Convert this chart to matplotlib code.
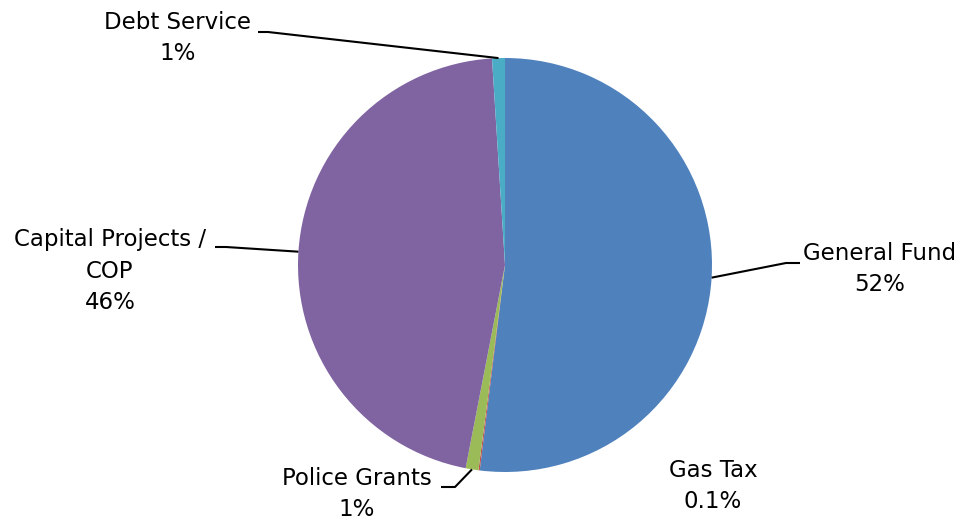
import numpy as np
import matplotlib.pyplot as plt

# fund shares (%)
funds = ['General Fund', 'Gas Tax', 'Police Grants', 'Capital Projects /\nCOP', 'Debt Service']
shares = [52, 0.1, 1, 46, 1]
share_text = ['52%', '0.1%', '1%', '46%', '1%']
colors = ['#4F81BD', '#C0504D', '#9BBB59', '#8064A2', '#4BACC6']

W, H = 962, 522
fig = plt.figure(figsize=(W / 100, H / 100), dpi=100)
ax = fig.add_axes([0, 0, 1, 1])

cx, cy, r = 505, H - 265, 207
wedges, _ = ax.pie(shares, colors=colors, startangle=90, counterclock=False,
                   center=(cx, cy), radius=r, frame=True)
ax.set_xlim(0, W)
ax.set_ylim(0, H)
ax.set_aspect('equal')
ax.axis('off')

def top(y):
    return H - y

# label text position (centre, from the top) and leader elbow / end for each slice
label_pos = {0: (880, 269), 1: (713, 486), 2: (357, 494), 3: (110, 271), 4: (178, 38)}
leaders = {0: [(786, 263), (800, 263)],
           2: [(455, 487), (441, 487)],
           3: [(226, 247), (215, 247)],
           4: [(268, 32), (258, 32)]}

fs = 16.5
for i, w in enumerate(wedges):
    x, y = label_pos[i]
    ax.text(x, top(y), funds[i] + '\n' + share_text[i], ha='center', va='center',
            fontsize=fs, linespacing=1.45, color='black')
    if i in leaders:
        ang = np.deg2rad((w.theta1 + w.theta2) / 2)
        ax_pt = (cx + r * np.cos(ang), cy + r * np.sin(ang))
        xs = [ax_pt[0]] + [p[0] for p in leaders[i]]
        ys = [ax_pt[1]] + [top(p[1]) for p in leaders[i]]
        ax.plot(xs, ys, color='black', lw=1.5, solid_capstyle='butt')

fig.savefig('out.png', dpi=100, facecolor='white')
